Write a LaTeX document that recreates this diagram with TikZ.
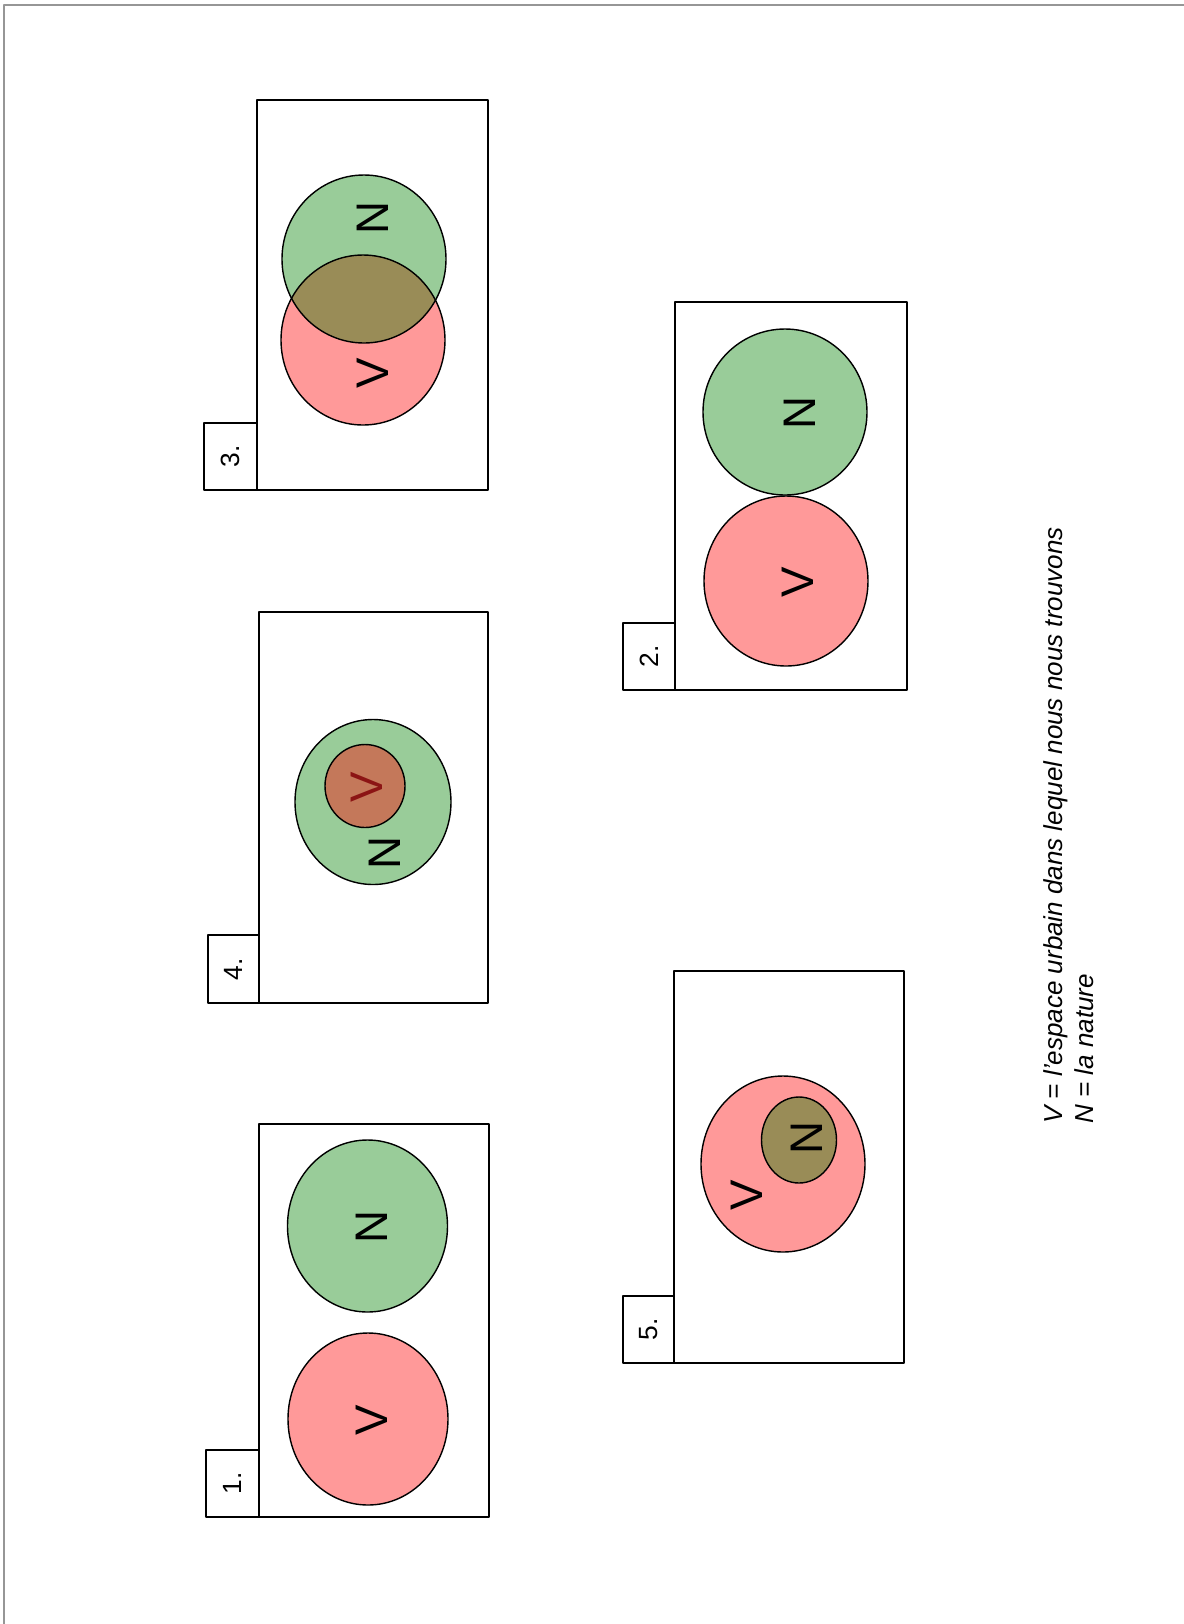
\documentclass[tikz,border=0pt]{standalone}
\usepackage{fontspec}
\setmainfont{Liberation Sans}
\usetikzlibrary{positioning}
\definecolor{vred}{RGB}{255,153,153}
\definecolor{ngreen}{RGB}{153,204,153}
\definecolor{mix}{RGB}{153,140,87}
\definecolor{vin}{RGB}{196,120,90}
\definecolor{vtxt}{RGB}{140,20,20}
\definecolor{pageline}{RGB}{150,150,150}

\begin{document}
\begin{tikzpicture}[x=0.02cm,y=-0.02cm,line cap=round,line join=round,
  panel/.style={line width=1.2pt},
  vset/.style={fill=vred,draw=black,line width=0.8pt},
  nset/.style={fill=ngreen,draw=black,line width=0.8pt},
  letter/.style={rotate=90,inner sep=0pt,font=\fontsize{26}{30}\selectfont},
  tagtxt/.style={rotate=90,inner sep=0pt,font=\fontsize{15}{18}\selectfont}]
\useasboundingbox (0,0) rectangle (1184,1624);
\draw[pageline,line width=1.1pt] (4,1624) -- (4,5) -- (1184,5);
% 1.
\draw[panel] (259,1124) rectangle (489,1517);
\draw[panel] (206,1450) rectangle (259,1517);
\node[tagtxt] (t1) at (232.5,1483.5) {1.};
\draw[nset] (367.5,1226) ellipse [x radius=80,y radius=86];
\draw[vset] (368,1419) ellipse [x radius=80,y radius=86];
\node[letter] (n1) at (372,1227) {N};
\node[letter] (v1) at (372,1420) {V};
% 2.
\draw[panel] (675,302) rectangle (907,690);
\draw[panel] (623,623) rectangle (675,690);
\node[tagtxt] (t2) at (649,656.5) {2.};
\draw[nset] (785,412) ellipse [x radius=82,y radius=83];
\draw[vset] (786,581) ellipse [x radius=82,y radius=85];
\node[letter] (n2) at (800,413) {N};
\node[letter] (v2) at (798,582) {V};
% 3.
\draw[panel] (257,100) rectangle (488,490);
\draw[panel] (204,423) rectangle (257,490);
\node[tagtxt] (t3) at (230.5,456.5) {3.};
\fill[vred] (363,340) ellipse [x radius=82,y radius=85];
\fill[ngreen] (364,259) ellipse [x radius=82,y radius=84];
\begin{scope}
\clip (364,259) ellipse [x radius=82,y radius=84];
\fill[mix] (363,340) ellipse [x radius=82,y radius=85];
\end{scope}
\draw[line width=0.8pt] (363,340) ellipse [x radius=82,y radius=85];
\draw[line width=0.8pt] (364,259) ellipse [x radius=82,y radius=84];
\node[letter] (n3) at (373,218) {N};
\node[letter] (v3) at (373,373) {V};
% 4.
\draw[panel] (259,612) rectangle (488,1003);
\draw[panel] (208,935) rectangle (259,1003);
\node[tagtxt] (t4) at (233.5,969) {4.};
\draw[nset] (373,802) ellipse [x radius=78,y radius=82.5];
\draw[fill=vin,line width=0.8pt] (365,786) ellipse [x radius=40,y radius=41.5];
\node[letter,text=vtxt] (v4) at (367,787) {V};
\node[letter] (n4) at (385,853) {N};
% 5.
\draw[panel] (674,971) rectangle (904,1363);
\draw[panel] (623,1296) rectangle (674,1363);
\node[tagtxt] (t5) at (648.5,1329.5) {5.};
\draw[vset] (783,1164) ellipse [x radius=82,y radius=88];
\draw[fill=mix,line width=0.8pt] (799,1140) ellipse [x radius=37.5,y radius=43];
\node[letter] (v5) at (747,1195) {V};
\node[letter] (n5) at (807,1138) {N};
% legende
\node[rotate=90,anchor=west,align=left,inner sep=0pt,
  font=\itshape\fontsize{14.8}{17.5}\selectfont] (leg) at (1069,1124)
  {V = l'espace urbain dans lequel nous nous trouvons\\N = la nature};
\end{tikzpicture}
\end{document}
